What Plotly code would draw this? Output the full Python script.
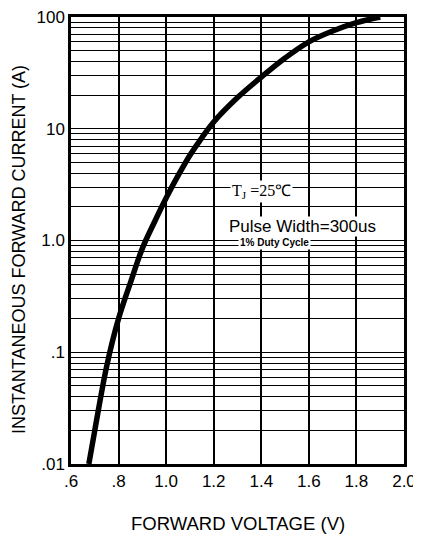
import plotly.graph_objects as go

voltage = [0.675, 0.70, 0.75, 0.80, 0.85, 0.90, 0.95, 1.00, 1.05, 1.10, 1.15, 1.20, 1.30, 1.40, 1.50, 1.60, 1.70, 1.80, 1.90]
current = [0.01, 0.02, 0.075, 0.20, 0.42, 0.85, 1.45, 2.4, 3.8, 5.8, 8.3, 11.5, 19, 29, 43, 60, 75, 89, 100]

y_major = [0.01, 0.1, 1, 10, 100]
y_major_text = [".01", ".1", "1.0", "10", "100"]
x_ticks = [0.6, 0.8, 1.0, 1.2, 1.4, 1.6, 1.8, 2.0]
x_tick_text = [".6", ".8", "1.0", "1.2", "1.4", "1.6", "1.8", "2.0"]

y_grid = []
y_grid_text = []
for d in [0.01, 0.1, 1, 10]:
    for m in range(1, 10):
        v = round(d * m, 4)
        y_grid.append(v)
        y_grid_text.append(y_major_text[y_major.index(d)] if m == 1 else "")
y_grid.append(100)
y_grid_text.append("100")

font = "Liberation Sans, Arial, sans-serif"

fig = go.Figure()
fig.add_trace(go.Scatter(x=voltage, y=current, mode="lines",
                         line=dict(color="black", width=5.5, shape="spline", smoothing=1.0),
                         showlegend=False))

fig.update_layout(
    width=413, height=526,
    margin=dict(l=63, r=17, t=9, b=70),
    paper_bgcolor="white", plot_bgcolor="white",
    font=dict(family=font, color="black", size=14),
    xaxis=dict(range=[0.6, 2.0], tickvals=x_ticks, ticktext=x_tick_text,
               showgrid=True, gridcolor="black", gridwidth=1.5,
               showline=True, linecolor="black", linewidth=2.5, mirror=True,
               ticks="", zeroline=False, tickfont=dict(size=17), automargin=False,
               ticklabeloverflow="allow"),
    yaxis=dict(type="log", range=[-2, 2], tickvals=y_grid, ticktext=y_grid_text,
               showgrid=True, gridcolor="black", gridwidth=1.3,
               showline=True, linecolor="black", linewidth=2.5, mirror=True,
               ticks="", zeroline=False, tickfont=dict(size=17), automargin=False,
               ticklabeloverflow="allow"),
)

fig.add_annotation(x=0.5, y=-0.132, xref="paper", yref="paper", xanchor="center", yanchor="middle",
                   text="FORWARD VOLTAGE (V)", showarrow=False, font=dict(size=18.5))
fig.add_annotation(x=-0.156, y=0.479, xref="paper", yref="paper", xanchor="center", yanchor="middle",
                   text="INSTANTANEOUS FORWARD CURRENT (A)", textangle=-90, showarrow=False,
                   font=dict(size=18))

fig.add_annotation(x=1.40, y=0.44, xref="x", yref="y", yanchor="middle",
                   text="T<sub>J</sub> =25\u2103", showarrow=False,
                   font=dict(family="Liberation Serif, Times New Roman, serif", size=16),
                   bgcolor="white", borderpad=1)
fig.add_annotation(x=1.575, y=0.125, xref="x", yref="y", yanchor="middle",
                   text="Pulse Width=300us", showarrow=False,
                   font=dict(size=17), bgcolor="white", borderpad=0)
fig.add_annotation(x=1.457, y=-0.02, xref="x", yref="y", yanchor="middle",
                   text="<b>1% Duty Cycle</b>", showarrow=False,
                   font=dict(size=10), bgcolor="white", borderpad=1)

fig.write_html("out.html")
